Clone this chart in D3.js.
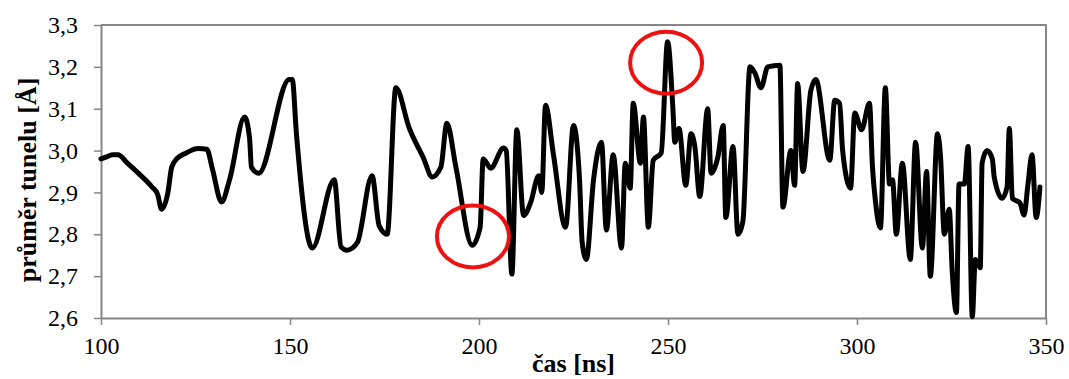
<!DOCTYPE html>
<html>
<head>
<meta charset="utf-8">
<script src="https://cdn.jsdelivr.net/npm/d3@7"></script>
<style>
  body { margin: 0; background: #fff; }
  text { font-family: "Liberation Serif", "Times New Roman", serif; fill: #000; }
</style>
</head>
<body>
<div id="chart"></div>
<script>
// time [ns] and tunnel diameter [Å]
const times = [
  100, 101.5, 103, 104.5, 107, 110, 113.5, 115, 116, 117.7, 118.7, 120, 122.7, 125.6, 128, 129.5, 131.9, 134, 138, 139.3, 139.8, 141.7, 149.8,
  150.6, 151.7, 155.9, 161.7, 163.5, 165.1, 167.8, 171.7, 173.6, 175.7, 178, 181.5, 185.4, 187.6, 189.9, 191.5, 193.9, 198.2, 200.3,
  201.1, 203.1, 206.5, 207.2, 208.7, 210, 211.8, 213.7, 215.8, 216.6, 217.6, 219.7, 222.9, 225, 226.6, 227.3, 228.4, 230.3, 232.4, 233.7,
  235.5, 237.7, 238.7, 240, 240.8, 242.7, 243.5, 244.8, 246.1, 248.2, 249.9,
  251.3, 251.8, 252.9, 254.7, 256.1, 257.1, 258.4, 260.5, 261.4, 263.2, 264.6, 265.3, 267.2, 268.5, 269.8, 271.7, 273, 274.6, 276.4,
  279.6, 280.4, 282.5, 283.5, 284.3, 285.7, 287.8, 289.1, 292.8, 294.1, 295.4, 296.2, 298.3, 299.4,
  301.2, 303.3, 304.1, 304.9, 306.2, 307.5, 308.6, 309.4, 310.4, 312, 314.1, 315.5, 317.3, 318.4, 319.4, 321.3, 322.1, 323.1, 324.4,
  325.2, 326.3, 327, 328.4, 329.4, 330.5, 331.3, 332.6, 333.1, 334.4, 335.8, 336.3, 338.4, 339.7, 340.3, 341.1, 343.1, 344.2, 345.2,
  346.3, 347.4, 348.4
];
const diameters = [
  2.98, 2.985, 2.99, 2.99, 2.97, 2.945, 2.913, 2.895, 2.86, 2.90, 2.96, 2.98, 2.995, 3.005, 3.003, 2.955, 2.877, 2.93, 3.08, 3.03, 2.96, 2.946, 3.17,
  3.17, 3.04, 2.767, 2.93, 2.77, 2.762, 2.78, 2.94, 2.82, 2.80, 3.15, 3.055, 2.98, 2.937, 2.96, 3.065, 2.96, 2.774, 2.817,
  2.98, 2.958, 3.006, 3.0, 2.705, 3.05, 2.845, 2.877, 2.94, 2.90, 3.108, 2.99, 2.817, 3.06, 2.93, 2.78, 2.74, 2.93, 3.02, 2.81,
  2.99, 2.767, 2.97, 2.91, 3.113, 2.97, 3.08, 2.817, 2.977, 2.994, 3.26,
  3.10, 3.02, 3.053, 2.917, 3.04, 3.01, 2.89, 3.10, 2.946, 2.985, 3.06, 2.84, 3.01, 2.80, 2.83, 3.20, 3.185, 3.15, 3.20,
  3.204, 2.865, 3.0, 2.917, 3.16, 2.95, 3.144, 3.17, 2.977, 3.12, 3.113, 3.0, 2.91, 3.09,
  3.05, 3.113, 2.96, 2.877, 2.815, 3.15, 2.92, 2.93, 2.80, 2.97, 2.74, 3.02, 2.767, 2.95, 2.70, 3.04, 2.985, 2.80, 2.86,
  2.71, 2.613, 2.92, 2.92, 3.01, 2.603, 2.74, 2.72, 2.97, 3.0, 2.98, 2.937, 2.886, 2.913, 3.053, 2.886, 2.875, 2.846, 2.917,
  2.99, 2.84, 2.913
];
// highlighted spots (red ellipses), centre in data units
const markTimes = [198.4, 249.5];
const markDiameters = [2.795, 3.21];

const xTicks = [100, 150, 200, 250, 300, 350];
const yTicks = [2.6, 2.7, 2.8, 2.9, 3.0, 3.1, 3.2, 3.3];
const xLabel = 'čas [ns]';
const yLabel = 'průměr tunelu [Å]';

const W = 1069, H = 379;
const margin = { top: 25, right: 23, bottom: 61, left: 101 };
const width = W - margin.left - margin.right;
const height = H - margin.top - margin.bottom;
const grey = '#868686';

const svg = d3.select('#chart').append('svg').attr('width', W).attr('height', H);
const chart = svg.append('g').attr('transform', `translate(${margin.left},${margin.top})`);

const xScale = d3.scaleLinear().domain([100, 350]).range([0, width]);
const yScale = d3.scaleLinear().domain([2.6, 3.3]).range([height, 0]);
const comma = d => d3.format('.1f')(d).replace('.', ',');

// frame top + right
chart.append('path')
  .attr('d', `M0,0H${width}V${height}`)
  .attr('fill', 'none').attr('stroke', grey).attr('stroke-width', 2);

// X axis
const xAxis = chart.append('g')
  .attr('transform', `translate(0,${height})`)
  .call(d3.axisBottom(xScale).tickValues(xTicks).tickSize(7).tickSizeOuter(0).tickPadding(12));
// Y axis
const yAxis = chart.append('g')
  .call(d3.axisLeft(yScale).tickValues(yTicks).tickFormat(comma).tickSize(7).tickSizeOuter(0).tickPadding(16));

[xAxis, yAxis].forEach(ax => {
  ax.select('.domain').attr('stroke', grey).attr('stroke-width', 2);
  ax.selectAll('.tick line').attr('stroke', grey).attr('stroke-width', 1.5);
  ax.selectAll('.tick text')
    .attr('font-family', '"Liberation Serif", serif')
    .attr('font-size', 24)
    .attr('fill', '#000');
});

// the line
const data = times.map((t, i) => ({ t, v: diameters[i] }));
const line = d3.line()
  .x(d => xScale(d.t))
  .y(d => yScale(d.v))
  .curve(d3.curveMonotoneX);

chart.append('path')
  .datum(data)
  .attr('fill', 'none')
  .attr('stroke', '#000')
  .attr('stroke-width', 5)
  .attr('stroke-linejoin', 'round')
  .attr('stroke-linecap', 'round')
  .attr('d', line);

// red ellipses
chart.selectAll('.mark')
  .data(markTimes.map((t, i) => ({ t, v: markDiameters[i] })))
  .enter()
  .append('ellipse')
  .attr('class', 'mark')
  .attr('cx', d => xScale(d.t))
  .attr('cy', d => yScale(d.v))
  .attr('rx', 36)
  .attr('ry', 31)
  .attr('fill', 'none')
  .attr('stroke', '#ee1111')
  .attr('stroke-width', 4);

// axis titles
svg.append('text')
  .attr('x', margin.left + width / 2)
  .attr('y', 372)
  .attr('text-anchor', 'middle')
  .attr('font-weight', 'bold')
  .attr('font-size', 26)
  .text(xLabel);

svg.append('text')
  .attr('transform', `translate(36,180) rotate(-90)`)
  .attr('text-anchor', 'middle')
  .attr('font-weight', 'bold')
  .attr('font-size', 26)
  .text(yLabel);
</script>
</body>
</html>
